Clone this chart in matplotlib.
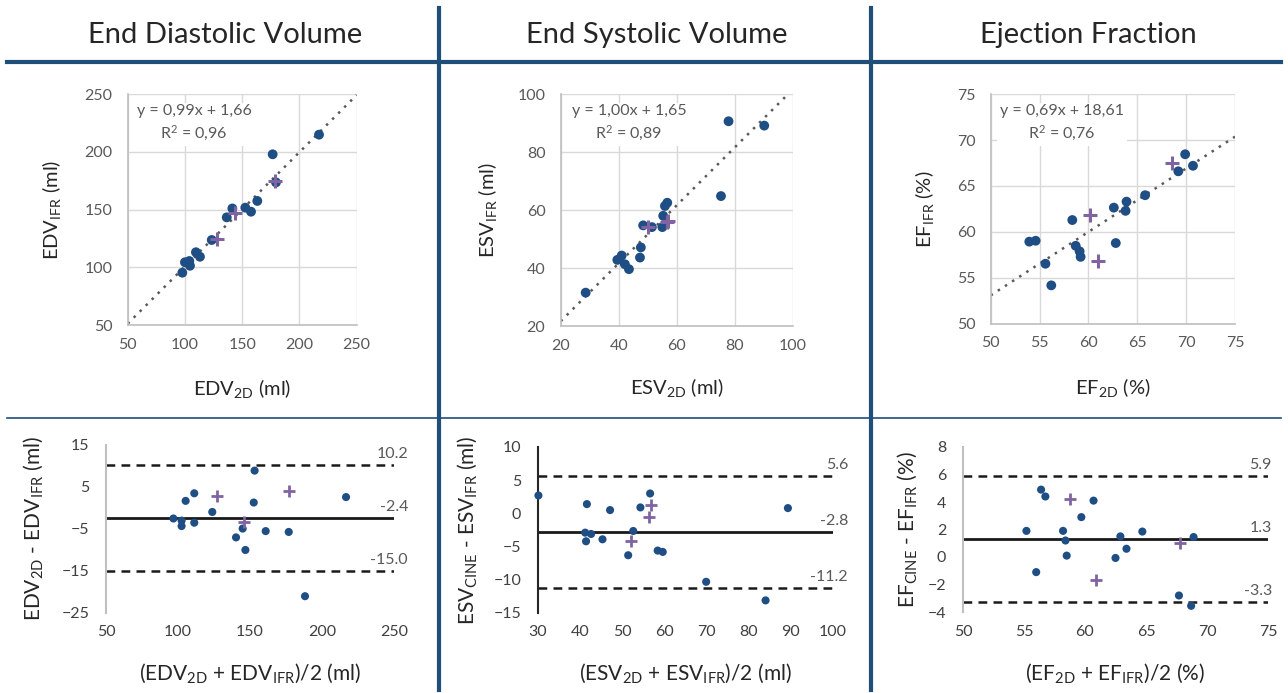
import matplotlib
matplotlib.use("Agg")
import matplotlib.pyplot as plt
from matplotlib.lines import Line2D
import numpy as np

plt.rcParams['font.family'] = ['Lato', 'DejaVu Sans']
plt.rcParams['mathtext.default'] = 'regular'

# ---------------- data ----------------
titles = ["End Diastolic Volume", "End Systolic Volume", "Ejection Fraction"]

# scatter: 2D vs IFR
edv_2d = [97.7, 100.0, 103.8, 104.4, 109.6, 113.1, 123.4, 136.5, 141.4, 152.7, 157.7, 163.2, 176.6, 179.5, 217.1]
edv_ifr = [95.3, 104.3, 105.4, 101.3, 113.0, 109.1, 123.6, 143.2, 150.9, 151.6, 148.1, 157.4, 197.8, 173.5, 214.8]
edv_2d_new = [128.3, 143.7, 179.0]
edv_ifr_new = [124.5, 147.2, 175.0]

esv_2d = [28.6, 39.5, 41.0, 42.1, 43.5, 47.3, 47.6, 48.4, 51.4, 55.0, 55.3, 55.9, 56.7, 75.2, 77.8, 90.1]
esv_ifr = [31.5, 42.8, 44.3, 41.3, 39.6, 43.6, 47.1, 54.7, 54.1, 54.1, 58.0, 61.4, 62.5, 64.8, 90.6, 89.1]
esv_2d_new = [50.2, 56.5, 57.1]
esv_ifr_new = [54.2, 56.0, 56.3]

ef_2d = [53.95, 54.6, 55.6, 56.2, 58.35, 58.7, 59.1, 59.2, 62.6, 62.8, 63.8, 63.9, 65.8, 69.2, 69.9, 70.7]
ef_ifr = [58.95, 59.05, 56.55, 54.2, 61.3, 58.5, 57.9, 57.3, 62.65, 58.8, 62.3, 63.3, 64.0, 66.6, 68.45, 67.2]
ef_2d_new = [60.2, 61.0, 68.55]
ef_ifr_new = [61.9, 56.8, 67.55]

# regression (slope, intercept, R2)
fit_slope = [0.99, 1.00, 0.69]
fit_intercept = [1.66, 1.65, 18.61]
fit_r2 = ["0,96", "0,89", "0,76"]

# Bland-Altman: mean vs difference
ba_edv_mean = [96.8, 102.5, 102.5, 105.3, 111.3, 111.3, 123.8, 140.3, 144.9, 146.8, 152.6, 153.2, 160.9, 176.9, 188.2, 216.7]
ba_edv_diff = [-2.5, -3.0, -4.3, 1.7, 3.5, -3.5, -0.95, -7.0, -4.9, -10.0, 1.3, 8.9, -5.5, -5.7, -21.0, 2.6]
ba_edv_mean_new = [126.9, 145.8, 177.1]
ba_edv_diff_new = [2.8, -3.4, 4.0]

ba_esv_mean = [30.1, 41.6, 41.2, 42.6, 41.4, 45.3, 47.1, 52.6, 51.4, 54.3, 56.6, 58.4, 59.6, 69.9, 84.0, 89.3]
ba_esv_diff = [2.7, 1.4, -2.9, -3.1, -4.2, -3.9, 0.5, -2.65, -6.3, 0.9, 3.0, -5.6, -5.8, -10.3, -13.1, 0.8]
ba_esv_mean_new = [56.8, 56.4, 52.1]
ba_esv_diff_new = [1.2, -0.6, -4.2]

ba_ef_mean = [55.2, 56.0, 56.4, 56.75, 58.2, 58.4, 58.5, 59.7, 60.7, 62.5, 62.9, 63.4, 64.7, 67.7, 68.7, 68.9]
ba_ef_diff = [1.9, -1.1, 4.9, 4.4, 1.9, 1.2, 0.1, 2.9, 4.1, -0.07, 1.5, 0.6, 1.85, -2.8, -3.55, 1.45]
ba_ef_mean_new = [58.8, 60.9, 67.8]
ba_ef_diff_new = [4.2, -1.7, 1.0]

ba_bias = [-2.4, -2.8, 1.3]
ba_upper = [10.2, 5.6, 5.9]
ba_lower = [-15.0, -11.2, -3.3]

# ---------------- style ----------------
W, H = 1288, 693
BLUE = '#1F4E85'
PURPLE = '#8064A2'
SEP = '#1F4E79'
GRID = '#D9D9D9'
SPINE = '#BFBFBF'
TXT = '#595959'

fig = plt.figure(figsize=(W / 100, H / 100), dpi=100)

def ax_px(l, r, t, b):
    return fig.add_axes([l / W, 1 - b / H, (r - l) / W, (b - t) / H])

# pixel boxes
sc_boxes = [(127.7, 356.7, 94, 325), (560.7, 793, 94, 326), (990.7, 1235, 94, 324)]
ba_boxes = [(106, 394, 445, 613), (538, 833, 447, 613), (963, 1268, 447, 612)]

sc_lims = [(50, 250, 50), (20, 100, 20), (50, 75, 5)]
sc_x = [edv_2d, esv_2d, ef_2d]
sc_y = [edv_ifr, esv_ifr, ef_ifr]
sc_xn = [edv_2d_new, esv_2d_new, ef_2d_new]
sc_yn = [edv_ifr_new, esv_ifr_new, ef_ifr_new]
sc_xlabels = [r'EDV$_{2D}$ (ml)', r'ESV$_{2D}$ (ml)', r'EF$_{2D}$ (%)']
sc_ylabels = [r'EDV$_{IFR}$ (ml)', r'ESV$_{IFR}$ (ml)', r'EF$_{IFR}$ (%)']
sc_ylab_x = [-0.331, -0.317, -0.269]
sc_xlab_y = [-0.273, -0.267, -0.278]
sc_txt_pos = [(0.29, 0.872), (0.294, 0.873), (0.292, 0.872)]

for i in range(3):
    ax = ax_px(*sc_boxes[i])
    lo, hi, st = sc_lims[i]
    ax.set_xlim(lo, hi)
    ax.set_ylim(lo, hi)
    ticks = np.arange(lo, hi + st / 2, st)
    ax.set_xticks(ticks)
    ax.set_yticks(ticks)
    ax.grid(True, color=GRID, lw=1.0, zorder=0)
    ax.set_axisbelow(True)
    for s in ['top', 'right']:
        ax.spines[s].set_visible(False)
    for s in ['left', 'bottom']:
        ax.spines[s].set_color(SPINE)
        ax.spines[s].set_linewidth(1.2)
    ax.tick_params(length=0, labelsize=11.5, labelcolor=TXT)
    ax.tick_params(axis='y', pad=11)
    ax.tick_params(axis='x', pad=9)
    xs = np.array([lo, hi])
    ax.plot(xs, fit_slope[i] * xs + fit_intercept[i], ls=(0, (1, 2.4)), color='#595959',
            lw=1.8, zorder=2, clip_on=True)
    ax.scatter(sc_x[i], sc_y[i], s=50, color=BLUE, edgecolors='none', zorder=3)
    ax.scatter(sc_xn[i], sc_yn[i], s=95, marker='+', color=PURPLE, linewidths=2.2, zorder=4)
    eq = "y = %.2fx + %.2f" % (fit_slope[i], fit_intercept[i])
    eq = eq.replace('.', ',')
    ax.text(sc_txt_pos[i][0], sc_txt_pos[i][1], eq + "\n" + r"R$^{2}$ = " + fit_r2[i],
            transform=ax.transAxes, ha='center', va='center', multialignment='center',
            fontsize=11.5, color=TXT, linespacing=1.4,
            bbox=dict(facecolor='white', edgecolor='none', pad=2), zorder=5)
    ax.set_xlabel(sc_xlabels[i], fontsize=14.5, color='#262626', va='center')
    ax.xaxis.set_label_coords(0.5, sc_xlab_y[i])
    ax.set_ylabel(sc_ylabels[i], fontsize=14.5, color='#262626', va='center')
    ax.yaxis.set_label_coords(sc_ylab_x[i], 0.5)

ba_lims = [((50, 250, 50), (-25, 15, 10)), ((30, 100, 10), (-15, 10, 5)), ((50, 75, 5), (-4, 8, 2))]
ba_x = [ba_edv_mean, ba_esv_mean, ba_ef_mean]
ba_y = [ba_edv_diff, ba_esv_diff, ba_ef_diff]
ba_xn = [ba_edv_mean_new, ba_esv_mean_new, ba_ef_mean_new]
ba_yn = [ba_edv_diff_new, ba_esv_diff_new, ba_ef_diff_new]
ba_xlabels = [r'(EDV$_{2D}$ + EDV$_{IFR}$)/2 (ml)', r'(ESV$_{2D}$ + ESV$_{IFR}$)/2 (ml)',
              r'(EF$_{2D}$ + EF$_{IFR}$)/2 (%)']
ba_ylabels = [r'EDV$_{2D}$ - EDV$_{IFR}$ (ml)', r'ESV$_{CINE}$ - ESV$_{IFR}$ (ml)',
              r'EF$_{CINE}$ - EF$_{IFR}$ (%)']
ba_ylab_x = [-0.253, -0.241, -0.184]
ba_xlab_y = [-0.357, -0.361, -0.37]
ba_axis_color = [SPINE, '#262626', SPINE]
ba_lab_x = [1.049, 1.051, 1.013]

for i in range(3):
    ax = ax_px(*ba_boxes[i])
    (xlo, xhi, xst), (ylo, yhi, yst) = ba_lims[i]
    ax.set_xlim(xlo, xhi)
    ax.set_ylim(ylo, yhi)
    ax.set_xticks(np.arange(xlo, xhi + xst / 2, xst))
    ax.set_yticks(np.arange(ylo, yhi + yst / 2, yst))
    for s in ['top', 'right', 'bottom']:
        ax.spines[s].set_visible(False)
    ax.spines['left'].set_color(ba_axis_color[i])
    ax.spines['left'].set_linewidth(1.5)
    ax.tick_params(length=0, labelsize=11.5, labelcolor='#404040')
    ax.tick_params(axis='y', pad=12)
    ax.tick_params(axis='x', pad=9)
    ax.axhline(ba_bias[i], color='#1a1a1a', lw=2.0, zorder=2)
    ax.axhline(ba_upper[i], color='#1a1a1a', lw=1.8, ls=(0, (3.5, 2.5)), zorder=2)
    ax.axhline(ba_lower[i], color='#1a1a1a', lw=1.8, ls=(0, (3.5, 2.5)), zorder=2)
    for v in (ba_upper[i], ba_bias[i], ba_lower[i]):
        ax.annotate("%.1f" % v, xy=(ba_lab_x[i], v), xycoords=('axes fraction', 'data'),
                    xytext=(0, 3), textcoords='offset points', ha='right', va='bottom',
                    fontsize=11.5, color=TXT, annotation_clip=False)
    ax.scatter(ba_x[i], ba_y[i], s=34, color=BLUE, edgecolors='none', zorder=3, clip_on=False)
    ax.scatter(ba_xn[i], ba_yn[i], s=85, marker='+', color=PURPLE, linewidths=2.0, zorder=4,
               clip_on=False)
    ax.set_xlabel(ba_xlabels[i], fontsize=15, color='#262626', va='center')
    ax.xaxis.set_label_coords(0.5, ba_xlab_y[i])
    ax.set_ylabel(ba_ylabels[i], fontsize=15, color='#262626', va='center')
    ax.yaxis.set_label_coords(ba_ylab_x[i], 0.5)

# titles
title_x = [225, 657, 1088]
for t, x in zip(titles, title_x):
    fig.text(x / W, 1 - 35 / H, t, ha='center', va='center', fontsize=21, color='#262626')

# separator lines
fig.add_artist(Line2D([7 / W, 1281 / W], [1 - 62 / H, 1 - 62 / H], color=SEP, lw=3.0))
fig.add_artist(Line2D([7 / W, 1281 / W], [1 - 418 / H, 1 - 418 / H], color=SEP, lw=1.2))
for x in (439, 871):
    fig.add_artist(Line2D([x / W, x / W], [1 - 8 / H, 1 - 690 / H], color=SEP, lw=3.0))

fig.savefig("out.png", dpi=100, facecolor='white')
